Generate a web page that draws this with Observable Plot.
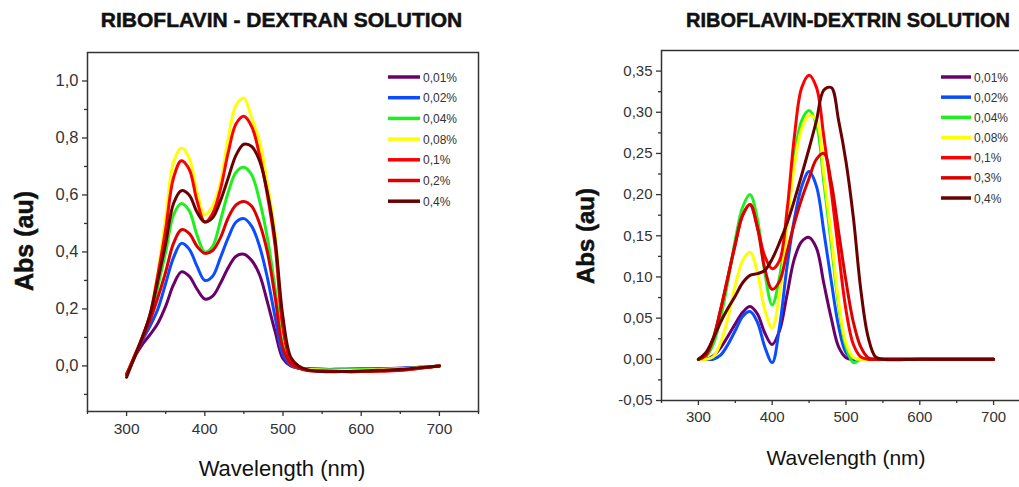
<!DOCTYPE html>
<html><head><meta charset="utf-8">
<script src="https://cdn.jsdelivr.net/npm/d3@7"></script>
<script src="https://cdn.jsdelivr.net/npm/@observablehq/plot@0.6"></script>
<style>
html,body{margin:0;padding:0;background:#fff;}
#wrap{position:relative;width:1019px;height:487px;overflow:hidden;font-family:"Liberation Sans",Arial,sans-serif;}
.panel{position:absolute;top:0;height:487px;}
.panel svg{max-width:none !important;}
#overlay{position:absolute;left:0;top:0;pointer-events:none;}
</style>
</head>
<body>
<div id="wrap">
  <div id="pl" class="panel" style="left:0px;width:500px"></div>
  <div id="pr" class="panel" style="left:520px;width:530px"></div>
  <svg id="overlay" width="1019" height="487"></svg>
</div>
<script>
// ---------- DATA ----------
const titleDextran = "RIBOFLAVIN - DEXTRAN SOLUTION";
const titleDextrin = "RIBOFLAVIN-DEXTRIN SOLUTION";
const yLabel = "Abs (au)";
const xLabel = "Wavelength (nm)";

const labelsDextran = ["0,01%","0,02%","0,04%","0,08%","0,1%","0,2%","0,4%"];
const labelsDextrin = ["0,01%","0,02%","0,04%","0,08%","0,1%","0,3%","0,4%"];
const seriesColors = ["#6b006b","#0a4cff","#1ef01e","#ffff00","#ff0000","#dc0000","#6b0000"];

const xMajorTicks = [300,400,500,600,700];
const xMinorTicks = [250,350,450,550,650,750];
const yMajorDextran = [0,0.2,0.4,0.6,0.8,1.0];
const yMinorDextran = [-0.1,0.1,0.3,0.5,0.7,0.9];
const yMajorDextrin = [-0.05,0,0.05,0.10,0.15,0.20,0.25,0.30,0.35];
const yMinorDextrin = [-0.025,0.025,0.075,0.125,0.175,0.225,0.275,0.325];

// Dextran panel wavelengths (nm)
const wlDextran = [300,310,320,330,340,350,360,370,380,390,400,410,420,430,440,450,460,470,480,490,500,510,520,530,550,575,600,625,650,675,700];
const dextran001 = [-0.03,0.03,0.075,0.11,0.15,0.21,0.285,0.33,0.315,0.27,0.235,0.245,0.29,0.345,0.385,0.392,0.37,0.32,0.225,0.12,0.025,0.0,-0.008,-0.01,-0.012,-0.012,-0.012,-0.01,-0.008,-0.005,0];
const dextran002 = [-0.03,0.03,0.09,0.14,0.2,0.29,0.38,0.43,0.41,0.35,0.30,0.315,0.38,0.45,0.505,0.517,0.49,0.42,0.31,0.17,0.04,0.003,-0.008,-0.01,-0.012,-0.012,-0.01,-0.01,-0.008,-0.005,0];
const dextran004 = [-0.03,0.03,0.10,0.17,0.28,0.40,0.53,0.57,0.545,0.46,0.40,0.42,0.51,0.61,0.68,0.697,0.67,0.58,0.45,0.27,0.07,0.008,-0.008,-0.012,-0.014,-0.014,-0.013,-0.012,-0.01,-0.006,0];
const dextran008 = [-0.03,0.035,0.10,0.18,0.33,0.52,0.715,0.765,0.73,0.61,0.53,0.56,0.645,0.80,0.915,0.94,0.87,0.79,0.64,0.46,0.13,0.02,-0.005,-0.012,-0.014,-0.015,-0.015,-0.013,-0.01,-0.006,0];
const dextran01 = [-0.03,0.035,0.10,0.18,0.32,0.48,0.66,0.72,0.69,0.58,0.505,0.535,0.62,0.75,0.85,0.876,0.84,0.74,0.60,0.42,0.13,0.018,-0.003,-0.015,-0.018,-0.02,-0.02,-0.018,-0.015,-0.008,0];
const dextran02 = [-0.03,0.03,0.095,0.16,0.24,0.33,0.43,0.478,0.465,0.42,0.395,0.405,0.45,0.52,0.565,0.577,0.56,0.50,0.40,0.24,0.06,0.008,-0.008,-0.015,-0.018,-0.02,-0.02,-0.018,-0.015,-0.008,0];
const dextran04 = [-0.04,0.03,0.10,0.18,0.30,0.43,0.57,0.615,0.60,0.54,0.505,0.52,0.58,0.66,0.74,0.778,0.77,0.72,0.61,0.44,0.17,0.03,0.0,-0.012,-0.02,-0.02,-0.018,-0.015,-0.012,-0.006,0];

// Dextrin panel wavelengths (nm)
const wlDextrin = [300,310,320,330,340,350,360,370,380,390,400,410,420,430,440,450,460,470,480,490,500,510,520,530,540,550,600,650,700];
const dextrin001 = [0,0,0.004,0.014,0.028,0.043,0.057,0.064,0.055,0.032,0.018,0.035,0.078,0.122,0.143,0.148,0.135,0.092,0.05,0.015,0.002,0,0,0,0,0,0,0,0];
const dextrin002 = [0,0,0,0.005,0.018,0.035,0.052,0.058,0.045,0.015,-0.004,0.04,0.112,0.17,0.21,0.228,0.21,0.155,0.095,0.04,0.008,0,0,0,0,0,0,0,0];
const dextrin004 = [0,0.003,0.018,0.05,0.095,0.145,0.185,0.2,0.17,0.105,0.066,0.1,0.17,0.245,0.29,0.302,0.285,0.215,0.14,0.065,0.015,-0.004,0,0,0,0,0,0,0];
const dextrin008 = [0,0,0.003,0.02,0.05,0.09,0.12,0.13,0.105,0.06,0.038,0.08,0.16,0.235,0.28,0.296,0.29,0.225,0.15,0.07,0.02,0.002,0,0,0,0,0,0,0];
const dextrin01 = [0,0.005,0.025,0.06,0.1,0.14,0.175,0.188,0.16,0.125,0.11,0.12,0.18,0.27,0.33,0.345,0.33,0.27,0.205,0.13,0.06,0.018,0.003,0,0,0,0,0,0];
const dextrin03 = [0,0.005,0.025,0.06,0.1,0.14,0.175,0.188,0.16,0.11,0.085,0.095,0.13,0.165,0.195,0.22,0.243,0.25,0.215,0.155,0.095,0.045,0.015,0.002,0,0,0,0,0];
const dextrin04 = [0,0.008,0.025,0.045,0.062,0.077,0.093,0.102,0.104,0.108,0.122,0.142,0.165,0.193,0.224,0.256,0.29,0.327,0.33,0.29,0.24,0.172,0.085,0.027,0.003,0,0,0,0];

// ---------- BUILD ----------
const FONT = '"Liberation Sans", Arial, sans-serif';
function rows(wl, seriesList, labels) {
  const out = [];
  seriesList.forEach((vals, i) => vals.forEach((v, j) => out.push({wl: wl[j], v, s: labels[i]})));
  return out;
}
const rowsDextran = rows(wlDextran, [dextran001,dextran002,dextran004,dextran008,dextran01,dextran02,dextran04], labelsDextran);
const rowsDextrin = rows(wlDextrin, [dextrin001,dextrin002,dextrin004,dextrin008,dextrin01,dextrin03,dextrin04], labelsDextrin);

const f1 = d => d.toFixed(1).replace(".", ",");
const f2 = d => d.toFixed(2).replace(".", ",");
const blank = () => "";

function panel(data, labels, o) {
  return Plot.plot({
    width: o.width, height: 487,
    marginLeft: o.ml, marginRight: o.mr, marginTop: o.mt, marginBottom: o.mb,
    x: {domain: [250, 750], label: null},
    y: {domain: o.ydom, label: null},
    color: {domain: labels, range: seriesColors},
    style: {fontFamily: FONT, fontSize: "14px", color: "#333", background: "transparent", overflow: "visible", maxWidth: "none"},
    marks: [
      Plot.line(data, {x: "wl", y: "v", z: "s", stroke: "s", strokeWidth: 3, curve: "catmull-rom"}),
      Plot.frame({stroke: "#333", strokeWidth: 1.5}),
      Plot.axisY({ticks: o.ymaj, tickSize: 5, tickPadding: 4, tickFormat: o.fmt, label: null, strokeWidth: 1.3, fontSize: o.yfs}),
      Plot.axisY({ticks: o.ymin, tickSize: 3, tickFormat: blank, label: null, strokeWidth: 1.3}),
      Plot.axisX({ticks: xMajorTicks, tickSize: 5, tickPadding: 6, label: null, strokeWidth: 1.3, fontSize: o.xfs}),
      Plot.axisX({ticks: xMinorTicks, tickSize: 3, tickFormat: blank, label: null, strokeWidth: 1.3})
    ]
  });
}

document.getElementById("pl").append(panel(rowsDextran, labelsDextran,
  {width: 500, ml: 87, mr: 22, mt: 52, mb: 76, ydom: [-0.16, 1.1], ymaj: yMajorDextran, ymin: yMinorDextran, fmt: f1, yfs: 16.5, xfs: 15.5}));
document.getElementById("pr").append(panel(rowsDextrin, labelsDextrin,
  {width: 530, ml: 141, mr: 20, mt: 50, mb: 87, ydom: [-0.05, 0.375], ymaj: yMajorDextrin, ymin: yMinorDextrin, fmt: f2, yfs: 15, xfs: 15}));

// ---------- TEXT OVERLAY ----------
const svg = d3.select("#overlay").style("font-family", FONT);
function txt(x, y, s, attrs) {
  const t = svg.append("text").attr("x", x).attr("y", y).text(s);
  for (const k in attrs) t.attr(k, attrs[k]);
  return t;
}
const heavy = {"font-weight": "bold", fill: "#111", stroke: "#111", "stroke-width": 0.5};
txt(281.5, 27, titleDextran, {"text-anchor": "middle", "font-size": 21, ...heavy});
txt(848, 27, titleDextrin, {"text-anchor": "middle", "font-size": 20, ...heavy});
txt(0, 0, yLabel, {"text-anchor": "middle", "dominant-baseline": "central", "font-size": 25, ...heavy, transform: "translate(24,241) rotate(-90)"});
txt(0, 0, yLabel, {"text-anchor": "middle", "dominant-baseline": "central", "font-size": 24, ...heavy, transform: "translate(585,236) rotate(-90)"});
txt(282, 476, xLabel, {"text-anchor": "middle", "font-size": 22, fill: "#111"});
txt(846, 465, xLabel, {"text-anchor": "middle", "font-size": 21, fill: "#111"});

function legend(labels, x0, x1, y0, step) {
  labels.forEach((l, i) => {
    const y = y0 + i * step;
    svg.append("line").attr("x1", x0).attr("x2", x1).attr("y1", y).attr("y2", y)
      .attr("stroke", seriesColors[i]).attr("stroke-width", 3.5);
    txt(x1 + 3, y + 4.5, l, {"font-size": 12, fill: "#333"});
  });
}
legend(labelsDextran, 388, 420, 77, 20.7);
legend(labelsDextrin, 941, 971, 77, 20.17);
</script>
</body></html>
